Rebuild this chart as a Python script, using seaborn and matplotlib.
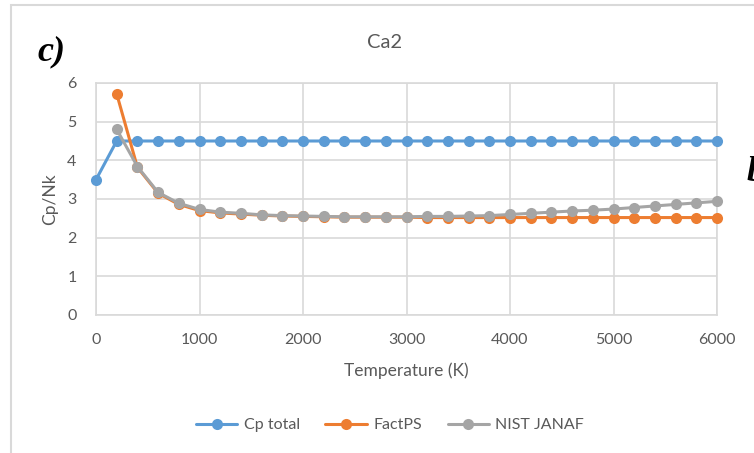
import matplotlib
matplotlib.use("Agg")
import matplotlib.pyplot as plt
from matplotlib.lines import Line2D
from matplotlib.patches import Rectangle
import seaborn as sns
import pandas as pd

# ---- data ----
temperature = [0, 200, 400, 600, 800, 1000, 1200, 1400, 1600, 1800, 2000,
               2200, 2400, 2600, 2800, 3000, 3200, 3400, 3600, 3800, 4000,
               4200, 4400, 4600, 4800, 5000, 5200, 5400, 5600, 5800, 6000]
cp_total = [3.5, 4.5, 4.5, 4.5, 4.5, 4.5, 4.5, 4.5, 4.5, 4.5, 4.5,
            4.5, 4.5, 4.5, 4.5, 4.5, 4.5, 4.5, 4.5, 4.5, 4.5,
            4.5, 4.5, 4.5, 4.5, 4.5, 4.5, 4.5, 4.5, 4.5, 4.5]
factps = [None, 5.72, 3.82, 3.15, 2.86, 2.70, 2.64, 2.61, 2.58, 2.56, 2.55,
          2.54, 2.53, 2.53, 2.53, 2.53, 2.52, 2.52, 2.52, 2.52, 2.52,
          2.52, 2.52, 2.52, 2.52, 2.52, 2.52, 2.52, 2.52, 2.52, 2.52]
nist_janaf = [None, 4.80, 3.84, 3.17, 2.89, 2.73, 2.66, 2.63, 2.59, 2.57, 2.56,
              2.55, 2.54, 2.54, 2.54, 2.54, 2.55, 2.55, 2.56, 2.57, 2.60,
              2.63, 2.66, 2.69, 2.71, 2.74, 2.78, 2.82, 2.86, 2.90, 2.94]
series_names = ["Cp total", "FactPS", "NIST JANAF"]
colors = ["#5B9BD5", "#ED7D31", "#A5A5A5"]
x_ticks = [0, 1000, 2000, 3000, 4000, 5000, 6000]
y_ticks = [0, 1, 2, 3, 4, 5, 6]

rows = []
for name, vals in zip(series_names, [cp_total, factps, nist_janaf]):
    for t, v in zip(temperature, vals):
        if v is not None:
            rows.append({"T": t, "Cp": v, "series": name})
df = pd.DataFrame(rows)

sns.set_style("white")
plt.rcParams["font.family"] = ["Lato", "DejaVu Sans"]

W, H = 754, 453
fig = plt.figure(figsize=(W / 100, H / 100), dpi=100)
ax = fig.add_axes([96 / W, 1 - 315 / H, (717 - 96) / W, (315 - 83) / H])

palette = dict(zip(series_names, colors))
sns.lineplot(data=df, x="T", y="Cp", hue="series", hue_order=series_names,
             palette=palette, marker="o", markersize=8, markeredgewidth=0,
             linewidth=2.2, legend=False, ax=ax, zorder=3)

ax.set_xlim(0, 6000)
ax.set_ylim(0, 6)
ax.set_xticks(x_ticks)
ax.set_yticks(y_ticks)
ax.grid(True, color="#D9D9D9", linewidth=1.2)
for s in ax.spines.values():
    s.set_color("#D9D9D9")
    s.set_linewidth(1.2)
ax.tick_params(axis="both", length=0, labelsize=11.5, labelcolor="#595959")
ax.tick_params(axis="x", pad=13)
ax.tick_params(axis="y", pad=14)
ax.set_xlabel("Temperature (K)", fontsize=12.5, color="#595959")
ax.set_ylabel("Cp/Nk", fontsize=12.5, color="#595959")
ax.xaxis.set_label_coords(0.5, (315 - 362) / 232)
ax.yaxis.set_label_coords((58 - 96) / 621, 0.5)
for ln in ax.lines:
    ln.set_clip_on(False)

fig.text(385 / W, 1 - 42 / H, "Ca2", ha="center", va="center",
         fontsize=14.5, color="#595959")

handles = [Line2D([0], [0], color=c, marker="o", markersize=8,
                  markeredgewidth=0, linewidth=2.2) for c in colors]
fig.legend(handles, series_names, loc="center", ncol=3,
           bbox_to_anchor=(390 / W, 1 - 425 / H), frameon=False,
           fontsize=11.5, labelcolor="#595959", handlelength=2.6,
           columnspacing=1.6, handletextpad=0.4)

fig.text(37 / W, 1 - 52 / H, "c)", fontsize=26, fontweight="bold",
         fontstyle="italic", family=["Liberation Serif", "DejaVu Serif"],
         ha="left", va="center", color="black")
fig.text(747 / W, 1 - 172 / H, "b)", fontsize=26, fontweight="bold",
         fontstyle="italic", family=["Liberation Serif", "DejaVu Serif"],
         ha="left", va="center", color="black")

fig.patches.append(Rectangle((11 / W, -0.1), 1.2, 1.1 - 5 / H,
                             transform=fig.transFigure, fill=False,
                             edgecolor="#D9D9D9", linewidth=1.5))

fig.savefig("out.png", dpi=100)
